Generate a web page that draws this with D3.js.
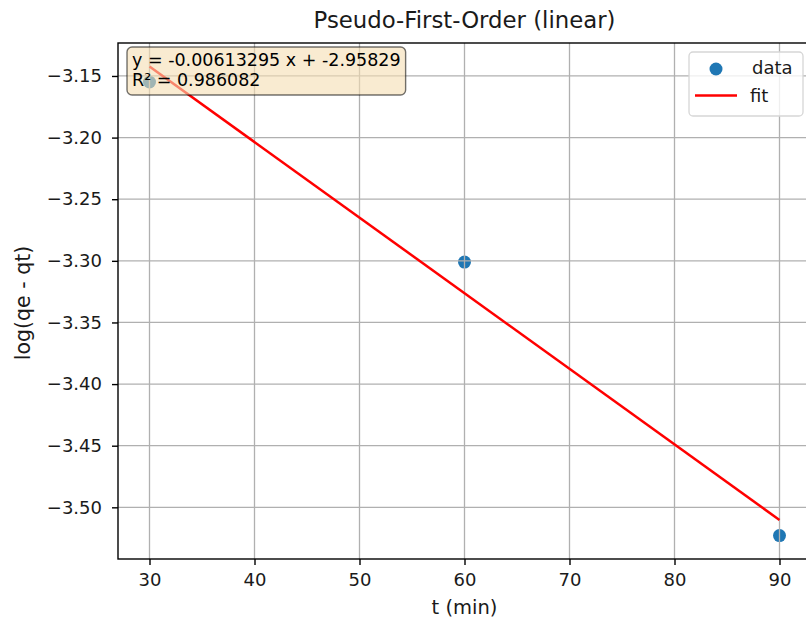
<!DOCTYPE html>
<html>
<head>
<meta charset="utf-8">
<script src="https://cdn.jsdelivr.net/npm/d3@7"></script>
<style>
  html, body { margin: 0; padding: 0; background: #fff; }
  svg { display: block; font-family: "DejaVu Sans", sans-serif; }
</style>
</head>
<body>
<svg id="chart" width="806" height="625"></svg>
<script>
// Pseudo-first-order kinetics, linearised form
const times = [30, 60, 90];                       // t (min)
const logValues = [-3.1549, -3.3010, -3.5229];    // log(qe - qt)
const fitSlope = -0.00613295;
const fitIntercept = -2.95829;
const fitR2 = 0.986082;
const xTicks = [30, 40, 50, 60, 70, 80, 90];
const yTicks = [-3.15, -3.20, -3.25, -3.30, -3.35, -3.40, -3.45, -3.50];

const svg = d3.select("#chart");
const plotLeft = 118, plotRight = 811, plotTop = 43, plotBottom = 559;

const fitX = [d3.min(times), d3.max(times)];
const fitY = fitX.map(v => fitSlope * v + fitIntercept);

// axis limits with 5% padding around everything plotted
const xMin = d3.min(times), xMax = d3.max(times);
const allY = logValues.concat(fitY);
const yMin = d3.min(allY), yMax = d3.max(allY);
const xPad = (xMax - xMin) * 0.05, yPad = (yMax - yMin) * 0.05;

const x = d3.scaleLinear().domain([xMin - xPad, xMax + xPad]).range([plotLeft, plotRight]);
const y = d3.scaleLinear().domain([yMin - yPad, yMax + yPad]).range([plotBottom, plotTop]);

const clipId = "plot-area";
svg.append("clipPath").attr("id", clipId)
  .append("rect").attr("x", plotLeft).attr("y", plotTop)
  .attr("width", plotRight - plotLeft).attr("height", plotBottom - plotTop);

const plot = svg.append("g").attr("clip-path", `url(#${clipId})`);

// scatter points (beneath the grid, as in matplotlib's default z-order)
plot.selectAll("circle.pt").data(times).join("circle")
  .attr("class", "pt")
  .attr("cx", d => x(d))
  .attr("cy", (d, i) => y(logValues[i]))
  .attr("r", 6.5)
  .attr("fill", "#1f77b4");

// grid
plot.selectAll("line.gx").data(xTicks).join("line")
  .attr("class", "gx")
  .attr("x1", d => x(d)).attr("x2", d => x(d))
  .attr("y1", plotTop).attr("y2", plotBottom)
  .attr("stroke", "#b0b0b0").attr("stroke-width", 1.3);
plot.selectAll("line.gy").data(yTicks).join("line")
  .attr("class", "gy")
  .attr("y1", d => y(d)).attr("y2", d => y(d))
  .attr("x1", plotLeft).attr("x2", plotRight)
  .attr("stroke", "#b0b0b0").attr("stroke-width", 1.3);

// fitted line
plot.append("path")
  .datum(fitX.map((d, i) => [d, fitY[i]]))
  .attr("d", d3.line().x(d => x(d[0])).y(d => y(d[1])))
  .attr("fill", "none")
  .attr("stroke", "red")
  .attr("stroke-width", 2.5);

// axes
const xAxis = d3.axisBottom(x).tickValues(xTicks).tickSize(6).tickPadding(8)
  .tickFormat(d3.format("d"));
const yAxis = d3.axisLeft(y).tickValues(yTicks).tickSize(6).tickPadding(10)
  .tickFormat(d => d3.format(".2f")(d).replace("-", "\u2212"));

const gx = svg.append("g").attr("transform", `translate(0,${plotBottom})`).call(xAxis);
const gy = svg.append("g").attr("transform", `translate(${plotLeft},0)`).call(yAxis);
[gx, gy].forEach(g => {
  g.select(".domain").remove();
  g.selectAll("line").attr("stroke", "#000").attr("stroke-width", 1.4);
  g.selectAll("text").attr("fill", "#1a1a1a").attr("font-size", 18)
    .attr("font-family", "DejaVu Sans, sans-serif");
});

// frame
svg.append("rect")
  .attr("x", plotLeft).attr("y", plotTop)
  .attr("width", plotRight - plotLeft).attr("height", plotBottom - plotTop)
  .attr("fill", "none").attr("stroke", "#000").attr("stroke-width", 1.4);

// title and axis labels
svg.append("text").attr("x", (plotLeft + plotRight) / 2).attr("y", 28)
  .attr("text-anchor", "middle").attr("font-size", 22.8).attr("fill", "#1a1a1a")
  .text("Pseudo-First-Order (linear)");
svg.append("text").attr("x", (plotLeft + plotRight) / 2).attr("y", 614)
  .attr("text-anchor", "middle").attr("font-size", 19.5).attr("fill", "#1a1a1a")
  .text("t (min)");
svg.append("text")
  .attr("transform", `translate(30,303) rotate(-90)`)
  .attr("text-anchor", "middle").attr("font-size", 20.5).attr("fill", "#1a1a1a")
  .text("log(qe - qt)");

// equation box
const eqLines = [
  `y = ${fitSlope} x + ${fitIntercept}`,
  `R² = ${fitR2}`
];
const eqG = svg.append("g");
const eqBox = eqG.append("rect")
  .attr("rx", 5).attr("ry", 5)
  .attr("fill", "rgba(245,222,179,0.6)")
  .attr("stroke", "rgba(0,0,0,0.55)").attr("stroke-width", 1.4);
const eqText = eqG.selectAll("text").data(eqLines).join("text")
  .attr("x", 132).attr("y", (d, i) => 66 + i * 20)
  .attr("font-size", 17.5).attr("fill", "#000")
  .text(d => d);
let maxW = 0;
eqText.each(function () { maxW = Math.max(maxW, this.getComputedTextLength()); });
eqBox.attr("x", 127).attr("y", 47).attr("width", maxW + 10).attr("height", 48);

// legend
const lg = svg.append("g");
lg.append("rect").attr("x", 689).attr("y", 52).attr("width", 114).attr("height", 64)
  .attr("rx", 4).attr("fill", "rgba(255,255,255,0.8)")
  .attr("stroke", "#d6d6d6").attr("stroke-width", 1.3);
lg.append("circle").attr("cx", 716).attr("cy", 69).attr("r", 6.5).attr("fill", "#1f77b4");
lg.append("text").attr("x", 752).attr("y", 74).attr("font-size", 18).attr("fill", "#1a1a1a").text("data");
lg.append("line").attr("x1", 695).attr("x2", 737).attr("y1", 95.5).attr("y2", 95.5)
  .attr("stroke", "red").attr("stroke-width", 2.5);
lg.append("text").attr("x", 750).attr("y", 101.5).attr("font-size", 18).attr("fill", "#1a1a1a").text("fit");
</script>
</body>
</html>
